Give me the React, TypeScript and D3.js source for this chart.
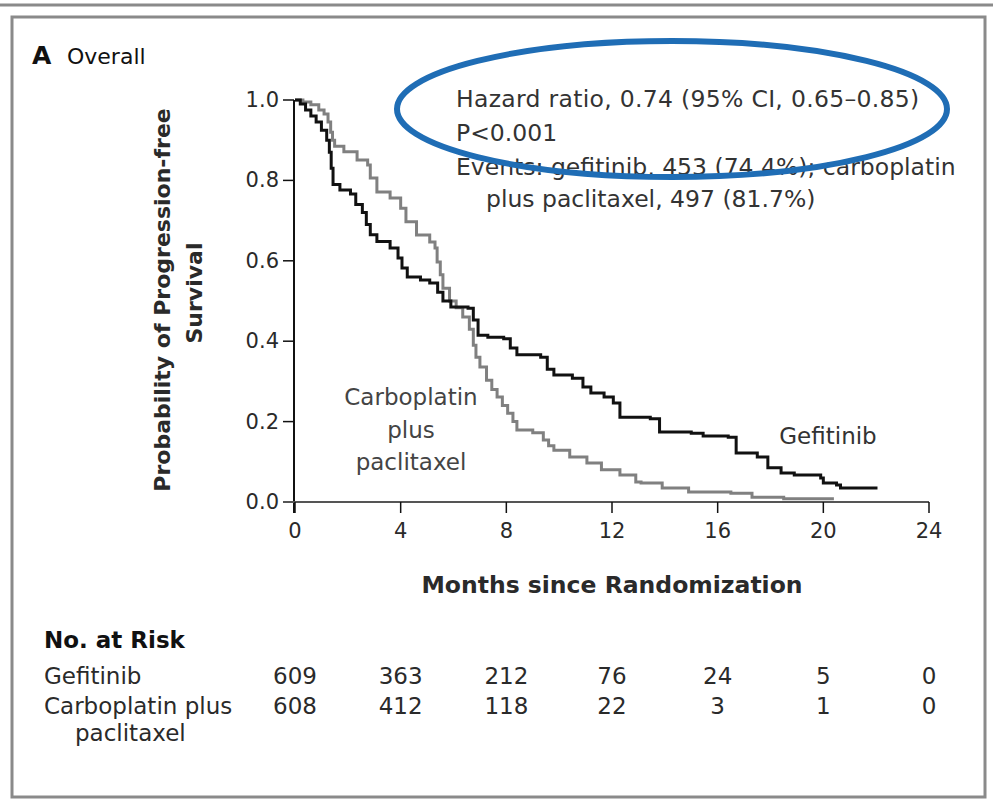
import React from "react";
import * as d3 from "d3";

// Kaplan-Meier step points: [month, probability of progression-free survival]
const gefitinibSteps: [number, number][] = [
  [0, 1.0], [0.2, 0.99], [0.4, 0.975], [0.6, 0.96], [0.8, 0.945], [1.0, 0.925],
  [1.2, 0.9], [1.3, 0.87], [1.37, 0.83], [1.44, 0.79], [1.7, 0.776], [2.1, 0.766],
  [2.3, 0.74], [2.55, 0.72], [2.7, 0.69], [2.85, 0.665], [3.1, 0.648], [3.6, 0.632],
  [3.9, 0.607], [4.05, 0.582], [4.25, 0.56], [4.75, 0.552], [5.1, 0.545], [5.4, 0.522],
  [5.6, 0.5], [5.9, 0.485], [6.55, 0.482], [6.75, 0.453], [6.93, 0.415], [7.3, 0.41],
  [7.9, 0.406], [8.15, 0.383], [8.4, 0.366], [9.3, 0.36], [9.55, 0.33], [9.8, 0.316],
  [10.5, 0.308], [10.9, 0.286], [11.2, 0.271], [11.7, 0.261], [12.05, 0.246], [12.3, 0.211],
  [13.45, 0.207], [13.8, 0.174], [15.0, 0.171], [15.45, 0.164], [16.4, 0.161], [16.7, 0.122],
  [17.5, 0.112], [17.9, 0.085], [18.4, 0.072], [18.9, 0.067], [19.9, 0.06], [20.0, 0.047],
  [20.5, 0.042], [20.65, 0.035], [22.05, 0.035],
];

const carboplatinSteps: [number, number][] = [
  [0, 1.0], [0.3, 0.995], [0.6, 0.988], [0.9, 0.975], [1.1, 0.965], [1.25, 0.945],
  [1.35, 0.92], [1.42, 0.9], [1.5, 0.885], [1.85, 0.871], [2.35, 0.851], [2.75, 0.838],
  [2.85, 0.806], [3.1, 0.771], [3.6, 0.756], [4.0, 0.731], [4.2, 0.697], [4.6, 0.664],
  [5.1, 0.647], [5.3, 0.632], [5.38, 0.597], [5.5, 0.565], [5.6, 0.532], [5.85, 0.5],
  [6.1, 0.483], [6.35, 0.46], [6.6, 0.43], [6.75, 0.39], [6.85, 0.36], [7.0, 0.336],
  [7.25, 0.303], [7.45, 0.28], [7.65, 0.261], [7.85, 0.24], [8.05, 0.221], [8.25, 0.2],
  [8.4, 0.179], [9.0, 0.172], [9.4, 0.154], [9.6, 0.14], [9.8, 0.129], [10.4, 0.112],
  [11.05, 0.097], [11.6, 0.08], [12.3, 0.067], [12.9, 0.05], [13.1, 0.047], [13.9, 0.035],
  [14.9, 0.025], [16.5, 0.022], [17.3, 0.012], [18.5, 0.008], [20.4, 0.008],
];

const xTicks = [0, 4, 8, 12, 16, 20, 24];
const yTicks = [0, 0.2, 0.4, 0.6, 0.8, 1.0];

const riskGroups = ["Gefitinib", "Carboplatin plus"];
const riskGefitinib = [609, 363, 212, 76, 24, 5, 0];
const riskCarboplatin = [608, 412, 118, 22, 3, 1, 0];

const annotationLines = [
  "Hazard ratio, 0.74 (95% CI, 0.65\u20130.85)",
  "P<0.001",
  "Events: gefitinib, 453 (74.4%); carboplatin",
  "plus paclitaxel, 497 (81.7%)",
];

const FONT = "'DejaVu Sans', sans-serif";

export default function App() {
  const W = 993;
  const H = 804;
  const x = d3.scaleLinear().domain([0, 24]).range([295, 929]);
  const y = d3.scaleLinear().domain([0, 1]).range([502, 100]);

  const line = d3
    .line<[number, number]>()
    .x((d) => x(d[0]))
    .y((d) => y(d[1]))
    .curve(d3.curveStepAfter);

  const textColor = "#2a2a2a";

  return (
    <svg
      width={W}
      height={H}
      style={{ position: "absolute", left: 0, top: 0, background: "#fff" }}
      fontFamily={FONT}
    >
      {/* frame */}
      <line x1={0} x2={W} y1={5} y2={5} stroke="#8a8a8a" strokeWidth={3} />
      <rect x={12} y={17} width={973} height={780} fill="none" stroke="#8a8a8a" strokeWidth={3} />

      {/* panel title */}
      <text x={32} y={64} fontSize={25} fontWeight="bold" fill="#111">A</text>
      <text x={67} y={64} fontSize={22} fill="#111">Overall</text>

      {/* y axis */}
      <line x1={294} x2={294} y1={y(1)} y2={y(0) + 11} stroke="#111" strokeWidth={2} />
      {yTicks.map((t) => (
        <g key={`y${t}`}>
          <line x1={283} x2={294} y1={y(t)} y2={y(t)} stroke="#111" strokeWidth={1.5} />
          <text x={279} y={y(t) + 7} fontSize={21} textAnchor="end" fill={textColor}>
            {t.toFixed(1)}
          </text>
        </g>
      ))}

      {/* x axis */}
      <line x1={283} x2={x(24)} y1={y(0)} y2={y(0)} stroke="#555" strokeWidth={2} />
      {xTicks.map((t) => (
        <g key={`x${t}`}>
          <line x1={x(t)} x2={x(t)} y1={y(0)} y2={y(0) + 11} stroke="#111" strokeWidth={1.5} />
          <text x={x(t)} y={538} fontSize={21} textAnchor="middle" fill={textColor}>
            {t}
          </text>
        </g>
      ))}

      {/* axis titles */}
      <text
        transform="translate(170,300) rotate(-90)"
        fontSize={22}
        fontWeight="bold"
        textAnchor="middle"
        fill={textColor}
      >
        Probability of Progression-free
      </text>
      <text
        transform="translate(202,293) rotate(-90)"
        fontSize={22}
        fontWeight="bold"
        textAnchor="middle"
        fill={textColor}
      >
        Survival
      </text>
      <text x={612} y={593} fontSize={23.5} fontWeight="bold" textAnchor="middle" fill={textColor}>
        Months since Randomization
      </text>

      {/* survival curves */}
      <path d={line(carboplatinSteps) ?? ""} fill="none" stroke="#808080" strokeWidth={3} />
      <path d={line(gefitinibSteps) ?? ""} fill="none" stroke="#111" strokeWidth={3} />

      {/* curve labels */}
      <g fontSize={23} textAnchor="middle" fill="#444">
        <text x={411} y={405}>Carboplatin</text>
        <text x={411} y={438}>plus</text>
        <text x={411} y={470}>paclitaxel</text>
      </g>
      <text x={828} y={444} fontSize={23} textAnchor="middle" fill="#333">
        Gefitinib
      </text>

      {/* statistics */}
      <g fontSize={23.5} fill="#333">
        <text x={456} y={107} letterSpacing={0.3}>{annotationLines[0]}</text>
        <text x={456} y={141}>{annotationLines[1]}</text>
        <text x={456} y={175}>{annotationLines[2]}</text>
        <text x={486} y={207}>{annotationLines[3]}</text>
      </g>
      <ellipse cx={672} cy={109} rx={275} ry={68} fill="none" stroke="#1f6db5" strokeWidth={6} />

      {/* numbers at risk */}
      <text x={44} y={648} fontSize={23} fontWeight="bold" fill="#111">
        No. at Risk
      </text>
      <g fontSize={23} fill={textColor}>
        <text x={44} y={684}>{riskGroups[0]}</text>
        <text x={44} y={714}>{riskGroups[1]}</text>
        <text x={75} y={741}>paclitaxel</text>
        {xTicks.map((t, i) => (
          <g key={`r${t}`}>
            <text x={x(t)} y={684} textAnchor="middle">{riskGefitinib[i]}</text>
            <text x={x(t)} y={714} textAnchor="middle">{riskCarboplatin[i]}</text>
          </g>
        ))}
      </g>
    </svg>
  );
}
